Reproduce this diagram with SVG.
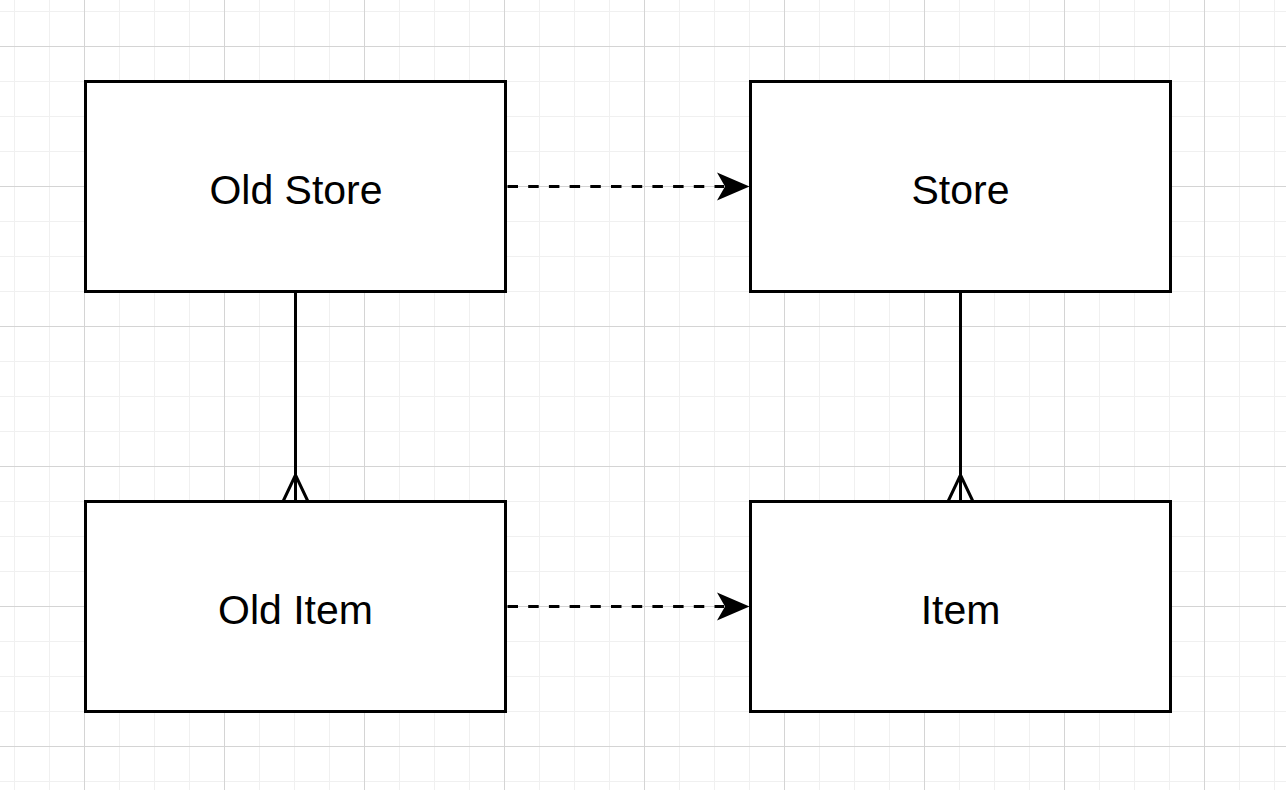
<svg xmlns="http://www.w3.org/2000/svg" width="1286" height="790" viewBox="0 0 1286 790">
<style>
.box{fill:#ffffff;stroke:#000000;stroke-width:3}
.lbl{font-family:"Liberation Sans",Arial,Helvetica,sans-serif;font-size:41px;fill:#000000;text-anchor:middle}
.rel{fill:none;stroke:#000000;stroke-width:3}
.dash{fill:none;stroke:#000000;stroke-width:3;stroke-dasharray:10.5 10.2}
</style>
<defs>
<pattern id="minor" x="14" y="11" width="35" height="35" patternUnits="userSpaceOnUse">
<rect x="0" y="0" width="1" height="35" fill="#f0f0f0"/>
<rect x="0" y="0" width="35" height="1" fill="#f0f0f0"/>
</pattern>
<pattern id="major" x="84" y="46" width="140" height="140" patternUnits="userSpaceOnUse">
<rect x="0" y="0" width="1" height="140" fill="#d4d4d4"/>
<rect x="0" y="0" width="140" height="1" fill="#d4d4d4"/>
</pattern>
</defs>
<rect x="0" y="0" width="1286" height="790" fill="#ffffff"/>
<rect x="0" y="0" width="1286" height="790" fill="url(#minor)"/>
<rect x="0" y="0" width="1286" height="790" fill="url(#major)"/>
<g id="connectors">
<path class="rel" d="M295.5,291.5 V501.5 M283,501.5 L295.5,475 L308,501.5"/>
<path class="rel" d="M960.5,291.5 V501.5 M948,501.5 L960.5,475 L973,501.5"/>
<path class="dash" d="M507.5,186.5 H724" />
<path d="M717,172.5 L749.5,186.5 L717,200.5 L725,186.5 Z" fill="#000000"/>
<path class="dash" d="M507.5,606.5 H724" />
<path d="M717,592.5 L749.5,606.5 L717,620.5 L725,606.5 Z" fill="#000000"/>
</g>
<g id="old-store">
<rect class="box" x="85.5" y="81.5" width="420" height="210"/>
<text class="lbl" x="296" y="204">Old Store</text>
</g>
<g id="store">
<rect class="box" x="750.5" y="81.5" width="420" height="210"/>
<text class="lbl" x="960.5" y="204">Store</text>
</g>
<g id="old-item">
<rect class="box" x="85.5" y="501.5" width="420" height="210"/>
<text class="lbl" x="295.5" y="624">Old Item</text>
</g>
<g id="item">
<rect class="box" x="750.5" y="501.5" width="420" height="210"/>
<text class="lbl" x="960.5" y="624">Item</text>
</g>
</svg>
